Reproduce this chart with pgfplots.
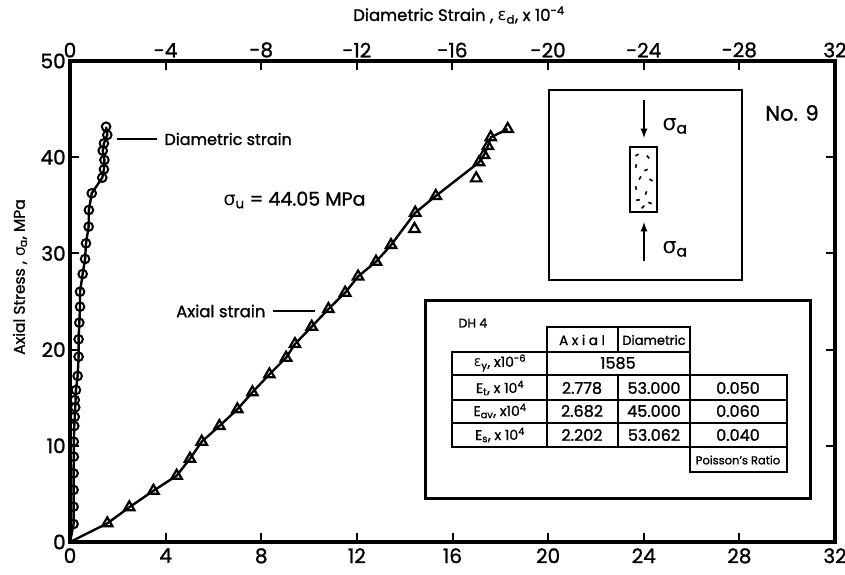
\documentclass[border=0pt]{standalone}
\usepackage{pgfplots}
\pgfplotsset{compat=1.18}
\usepackage{pgfplotstable}
\usepackage{fontspec}
\setmainfont{Poppins}[FakeBold=1.2]
\newfontfamily\grk{DejaVu Sans}
\newcommand\sig{{\grk σ}}
\newcommand\eps{{\grk ε}}
\pgfplotstableread{
x y
1.56 1.94
2.48 3.61
3.49 5.33
4.46 6.89
5.02 8.66
5.51 10.43
6.25 12.06
7.00 13.79
7.63 15.56
8.34 17.43
9.04 19.16
9.41 20.58
10.11 22.38
10.81 24.22
11.51 25.92
12.05 27.60
12.80 29.14
13.43 30.87
14.41 32.54
14.44 34.23
15.30 35.97
16.99 37.80
17.11 39.47
17.32 40.23
17.48 41.16
17.60 42.07
18.31 42.93
}\axialmarks
\pgfplotstableread{
x y
0 0
1.56 1.94
2.48 3.61
3.49 5.33
4.46 6.89
5.02 8.66
5.51 10.43
6.25 12.06
7.00 13.79
7.63 15.56
8.34 17.43
9.04 19.16
9.41 20.58
10.11 22.38
10.81 24.22
11.51 25.92
12.05 27.60
12.80 29.14
13.43 30.87
14.44 34.23
15.30 35.97
17.11 39.47
17.32 40.23
17.48 41.16
17.60 42.07
18.31 42.93
}\axialline
\pgfplotstableread{
x y
-0.15 1.87
-0.15 3.67
-0.15 5.41
-0.15 7.14
-0.16 8.87
-0.16 10.43
-0.18 12.06
-0.20 13.02
-0.22 14.00
-0.20 14.76
-0.25 15.80
-0.32 17.26
-0.36 19.26
-0.36 21.07
-0.39 22.80
-0.42 24.46
-0.42 26.02
-0.53 27.86
-0.63 29.42
-0.67 31.05
-0.78 32.78
-0.79 34.51
-0.91 36.25
-1.35 37.87
-1.42 38.74
-1.44 39.71
-1.37 40.68
-1.42 41.44
-1.56 42.31
-1.51 43.17
}\diamarks
\pgfplotstableread{
x y
0 0
-0.15 1.87
-0.15 3.67
-0.15 5.41
-0.15 7.14
-0.16 8.87
-0.16 10.43
-0.18 12.06
-0.20 13.02
-0.22 14.00
-0.25 15.80
-0.32 17.26
-0.36 19.26
-0.36 21.07
-0.39 22.80
-0.42 24.46
-0.42 26.02
-0.53 27.86
-0.63 29.42
-0.67 31.05
-0.78 32.78
-0.79 34.51
-0.91 36.25
-1.35 37.87
-1.42 38.74
-1.44 39.71
-1.37 40.68
-1.42 41.44
-1.56 42.31
-1.51 43.17
}\dialine
\begin{document}
\begin{tikzpicture}
\pgfplotsset{
  common/.style={
    at={(0pt,0pt)}, anchor=south west,
    scale only axis, width=765pt, height=481pt,
    ymin=0, ymax=50,
    tick align=inside,
    major tick length=9pt,
    every tick/.style={black, line width=2pt},
    /pgf/number format/assume math mode=true,
    tick label style={font=\fontsize{20}{20}\selectfont},
  }
}
\begin{axis}[common,
  line width=4pt,
  xmin=0, xmax=32,
  xtick={0,4,...,32}, ytick={0,10,...,50},
  xtick pos=lower,
  xticklabel style={yshift=-1pt},
  yticklabel style={xshift=1pt},
]
\addplot[black, line width=2.4pt] table[x=x,y=y] {\axialline};
\addplot[only marks, mark=triangle, mark size=6pt, mark options={fill=white, draw=black, line width=2.2pt}] table[x=x,y=y] {\axialmarks};
\end{axis}
\begin{axis}[common,
  xmin=-32, xmax=0, x dir=reverse,
  axis x line*=top, axis y line=none,
  axis line style={line width=4pt},
  xtick={0,-4,...,-32},
  xticklabels={0,-4,-8,-12,-16,-20,-24,-28,32},
  xticklabel style={yshift=0pt},
]
\addplot[black, line width=2.4pt] table[x=x,y=y] {\dialine};
\addplot[only marks, mark=o, mark size=4.3pt, mark options={fill=white, draw=black, line width=2pt}] table[x=x,y=y] {\diamarks};
\end{axis}
\begin{scope}[shift={(-70pt,542pt)}, x=1pt, y=-1pt]
  % axis titles
  \node[font=\fontsize{16.5}{16.5}\selectfont] at (459,15) {Diametric Strain , \eps\textsubscript{d}, x 10\textsuperscript{-4}};
  \node[font=\fontsize{15.5}{15.5}\selectfont, rotate=90] at (20,277) {Axial Stress , \sig\textsubscript{a}, MPa};
  % annotations
  \draw[line width=2pt] (117,139) -- (157,139);
  \node[anchor=west, font=\fontsize{16}{16}\selectfont] at (161,139) {Diametric strain};
  \node[anchor=east, font=\fontsize{16.5}{16.5}\selectfont] at (269,311) {Axial strain};
  \draw[line width=2pt] (273,311) -- (315,311);
  \node[anchor=west, font=\fontsize{19}{19}\selectfont] at (220,200) {\sig\textsubscript{u} = 44.05 MPa};
  \node[font=\fontsize{21}{21}\selectfont] at (792,113) {No. 9};
  % specimen inset
  \draw[line width=2.2pt] (549,90) rectangle (742,280);
  \draw[line width=2.2pt, -latex] (644,100) -- (644,138);
  \draw[line width=2.2pt, -latex] (644,261) -- (644,222);
  \node[font=\fontsize{22}{22}\selectfont] at (675,126) {\sig\textsubscript{a}};
  \node[font=\fontsize{22}{22}\selectfont] at (675,249) {\sig\textsubscript{a}};
  \draw[line width=2.2pt] (630,147) rectangle (657,212);
  \foreach \a/\b/\r in {637/155/30, 648/157/-50, 636/166/80, 646/170/20, 640/178/60, 651/180/-30, 636/188/100, 646/193/70, 638/200/10, 650/203/-20, 643/207/45}{
    \draw[line width=1.6pt, rotate around={\r:(\a,\b)}] (\a-1.8,\b) -- (\a+1.8,\b);
  }
  % table inset
  \draw[line width=3pt] (425,300) rectangle (810,498);
  \node[anchor=west, font=\fontsize{12.5}{12.5}\selectfont] at (455,323) {DH 4};
  \begin{scope}[line width=1.8pt]
    \draw (547,327) rectangle (690,352);
    \draw (618,327) -- (618,352);
    \draw (452,352) rectangle (690,375);
    \draw (547,352) -- (547,375);
    \draw (452,375) rectangle (787,447);
    \draw (452,400) -- (787,400);
    \draw (452,423) -- (787,423);
    \draw (547,375) -- (547,447);
    \draw (618,375) -- (618,447);
    \draw (690,375) -- (690,447);
    \draw (690,447) rectangle (787,472);
  \end{scope}
  \begin{scope}[every node/.style={font=\fontsize{16}{16}\selectfont}]
    \node[font=\fontsize{13.5}{13.5}\selectfont] at (582,340) {A x i a l};
    \node[font=\fontsize{13}{13}\selectfont] at (654,340) {Diametric};
    \node[font=\fontsize{14}{14}\selectfont] at (500,363) {\eps\textsubscript{y}, x10\textsuperscript{-6}};
    \node at (618,363) {1585};
    \node[font=\fontsize{14}{14}\selectfont] at (500,388) {E\textsubscript{t}, x 10\textsuperscript{4}};
    \node at (582,388) {2.778};
    \node at (654,388) {53.000};
    \node at (738,388) {0.050};
    \node[font=\fontsize{14}{14}\selectfont] at (500,411) {E\textsubscript{av}, x10\textsuperscript{4}};
    \node at (582,411) {2.682};
    \node at (654,411) {45.000};
    \node at (738,411) {0.060};
    \node[font=\fontsize{14}{14}\selectfont] at (500,435) {E\textsubscript{s}, x 10\textsuperscript{4}};
    \node at (582,435) {2.202};
    \node at (654,435) {53.062};
    \node at (738,435) {0.040};
    \node[font=\fontsize{11.5}{11.5}\selectfont] at (738,460) {Poisson's Ratio};
  \end{scope}
\end{scope}
\pgfresetboundingbox
\path (-70pt,-32pt) rectangle (775pt,542pt);
\end{tikzpicture}
\end{document}
